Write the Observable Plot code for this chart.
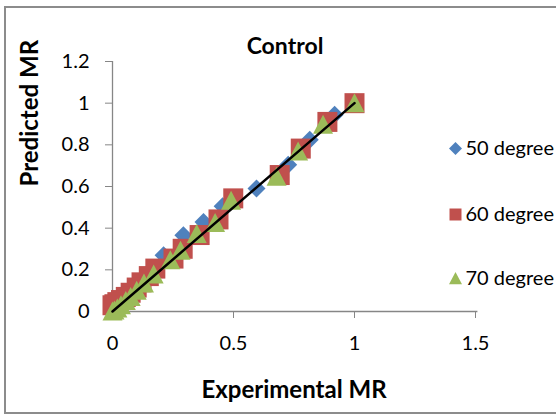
<!DOCTYPE html>
<html>
<head>
<meta charset="utf-8">
<script src="https://cdn.jsdelivr.net/npm/d3@7"></script>
<script src="https://cdn.jsdelivr.net/npm/@observablehq/plot@0.6"></script>
<style>
  html, body { margin: 0; padding: 0; background: #fff; overflow: hidden; }
  #wrap { position: relative; width: 556px; height: 417px; }
  #frame { position: absolute; left: 4px; top: 6px; width: 570px; height: 408px; border: 2px solid #8c8c8c; box-sizing: border-box; pointer-events: none; }
  #chart { position: absolute; left: 0; top: 0; }
</style>
</head>
<body>
<div id="wrap"><div id="chart"></div><div id="frame"></div></div>
<script>
// ---- data ----
const seriesNames = ["50 degree", "60 degree", "70 degree"];
const seriesColors = ["#4f81bd", "#c0504d", "#9bbb59"];

const exp50  = [1, 0.918, 0.815, 0.726, 0.595, 0.455, 0.376, 0.293, 0.211, 0.16, 0.12, 0.09, 0.06, 0.04, 0.02, 0.01, 0];
const pred50 = [1, 0.945, 0.824, 0.704, 0.59, 0.505, 0.43, 0.366, 0.27, 0.2, 0.15, 0.11, 0.08, 0.055, 0.035, 0.02, 0.01];

const exp60  = [1, 0.888, 0.778, 0.691, 0.499, 0.438, 0.36, 0.29, 0.252, 0.177, 0.15, 0.12, 0.1, 0.075, 0.055, 0.035, 0.02, 0.008, 0];
const pred60 = [1, 0.91, 0.782, 0.655, 0.543, 0.442, 0.367, 0.301, 0.254, 0.206, 0.17, 0.14, 0.115, 0.09, 0.07, 0.055, 0.045, 0.035, 0.03];

const exp70  = [1, 0.87, 0.767, 0.678, 0.49, 0.424, 0.348, 0.281, 0.239, 0.17, 0.13, 0.1, 0.075, 0.055, 0.035, 0.02, 0.008, 0];
const pred70 = [1, 0.896, 0.768, 0.647, 0.532, 0.425, 0.372, 0.292, 0.246, 0.178, 0.135, 0.1, 0.07, 0.05, 0.03, 0.015, 0.005, 0];

const lineX = [0, 1];
const lineY = [0, 1];

const xTicks = [0, 0.5, 1, 1.5];
const yTicks = [0, 0.2, 0.4, 0.6, 0.8, 1, 1.2];

const titleText = "Control";
const xLabel = "Experimental MR";
const yLabel = "Predicted MR";

// ---- custom marker shapes ----
const diamond = { draw(c, size) { const r = Math.sqrt(size / Math.PI); c.moveTo(0, -r); c.lineTo(r, 0); c.lineTo(0, r); c.lineTo(-r, 0); c.closePath(); } };
const square  = { draw(c, size) { const r = Math.sqrt(size / Math.PI); c.moveTo(-r, -r); c.lineTo(r, -r); c.lineTo(r, r); c.lineTo(-r, r); c.closePath(); } };
const triangle = { draw(c, size) { const r = Math.sqrt(size / Math.PI); c.moveTo(0, -r); c.lineTo(r, r * 0.9); c.lineTo(-r, r * 0.9); c.closePath(); } };
const symbols = [diamond, square, triangle];
const sizes = [9, 10, 10];
const legendSizes = [6.5, 6, 6.5];

const toRows = (xs, ys) => xs.map((x, i) => ({x, y: ys[i]}));
const series = [toRows(exp50, pred50), toRows(exp60, pred60), toRows(exp70, pred70)];
const lineRows = toRows(lineX, lineY);

const axisGray = "#868686";
const legendDy = [87, 153, 217];

const marks = [
  Plot.ruleX([0], {stroke: axisGray, strokeWidth: 1.3}),
  Plot.ruleY([0], {stroke: axisGray, strokeWidth: 1.3, x1: 0, x2: 1.51}),
  Plot.axisX({ticks: xTicks, tickSize: 7, tickPadding: 17, stroke: axisGray, tickFormat: d => String(d), fill: "#000", label: null, fontSize: 20}),
  Plot.axisY({ticks: yTicks, tickSize: 7, tickPadding: 16, stroke: axisGray, tickFormat: d => String(+d.toFixed(1)), fill: "#000", label: null, fontSize: 20}),
  ...series.map((rows, i) => Plot.dot(rows, {x: "x", y: "y", symbol: () => symbols[i], r: sizes[i], fill: seriesColors[i], stroke: null})),
  Plot.line(lineRows, {x: "x", y: "y", stroke: "#000", strokeWidth: 2.5}),
  Plot.text([titleText], {frameAnchor: "top", dx: -9, dy: -15, fontWeight: "bold", fontSize: 23, fill: "#000", lineAnchor: "middle"}),
  Plot.text([xLabel], {frameAnchor: "bottom", dy: 79, fontWeight: "bold", fontSize: 24, fill: "#000", lineAnchor: "middle"}),
  Plot.text([yLabel], {frameAnchor: "left", dx: -82, rotate: -90, fontWeight: "bold", fontSize: 24, fill: "#000", lineAnchor: "middle"}),
  ...seriesNames.map((name, i) => Plot.dot([name], {frameAnchor: "top-left", dx: 343, dy: legendDy[i], symbol: () => symbols[i], r: legendSizes[i], fill: seriesColors[i], stroke: null})),
  ...seriesNames.map((name, i) => Plot.text([name], {frameAnchor: "top-left", dx: 353, dy: legendDy[i], textAnchor: "start", lineAnchor: "middle", fontSize: 20, fill: "#000"}))
];

const chart = Plot.plot({
  width: 556,
  height: 417,
  marginLeft: 112,
  marginRight: 81,
  marginTop: 61,
  marginBottom: 106,
  x: {domain: [0, 1.5]},
  y: {domain: [0, 1.2]},
  style: {fontFamily: "Lato, 'Open Sans', sans-serif", fontSize: "20px", color: "#000", background: "transparent", overflow: "visible"},
  marks
});
document.getElementById("chart").appendChild(chart);
</script>
</body>
</html>
